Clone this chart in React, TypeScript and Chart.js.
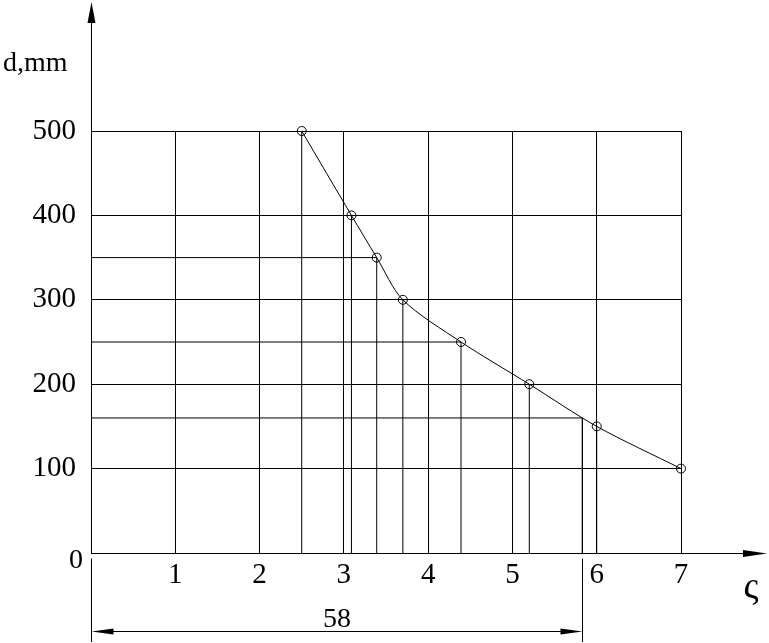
import React, { useEffect, useRef } from "react";
import { Chart, registerables } from "chart.js";

Chart.register(...registerables);

const xValues = [2.5, 3.09, 3.39, 3.7, 4.39, 5.2, 6.0, 7.0];
const dValues = [500, 400, 350, 300, 250, 200, 150, 100];
const refLevels = [350, 250];
const refXs = [3.39, 4.39];
const dimX = 5.83;
const dimLevel = 160;
const dimLabel = "58";
const xTicks = [0, 1, 2, 3, 4, 5, 6, 7];
const yTicks = [0, 100, 200, 300, 400, 500];

const FONT = "'Liberation Serif', 'Times New Roman', serif";

const overlay = {
  id: "overlay",
  afterDraw(chart: any) {
    const ctx = chart.ctx;
    const xs = chart.scales.x;
    const ys = chart.scales.y;
    const x0 = Math.round(xs.getPixelForValue(0)) + 0.5;
    const y0 = Math.round(ys.getPixelForValue(0)) + 0.5;
    const xd = Math.round(xs.getPixelForValue(dimX)) + 0.5;
    ctx.save();
    ctx.strokeStyle = "#000";
    ctx.fillStyle = "#000";
    ctx.lineWidth = 1;
    // y axis
    ctx.beginPath();
    ctx.moveTo(x0, y0);
    ctx.lineTo(x0, 20);
    ctx.stroke();
    ctx.beginPath();
    ctx.moveTo(x0, 2);
    ctx.lineTo(x0 - 4, 23);
    ctx.lineTo(x0 + 4, 23);
    ctx.closePath();
    ctx.fill();
    // x axis
    ctx.beginPath();
    ctx.moveTo(x0, y0);
    ctx.lineTo(746, y0);
    ctx.stroke();
    ctx.beginPath();
    ctx.moveTo(767, y0);
    ctx.lineTo(743, y0 - 3.5);
    ctx.lineTo(743, y0 + 3.5);
    ctx.closePath();
    ctx.fill();
    // extension lines
    ctx.beginPath();
    ctx.moveTo(x0, y0 + 5);
    ctx.lineTo(x0, 642);
    ctx.moveTo(xd, y0 + 5);
    ctx.lineTo(xd, 642);
    ctx.stroke();
    // dimension line
    const yd = 631.5;
    ctx.beginPath();
    ctx.moveTo(x0 + 10, yd);
    ctx.lineTo(xd - 10, yd);
    ctx.stroke();
    ctx.beginPath();
    ctx.moveTo(x0, yd);
    ctx.lineTo(x0 + 22, yd - 3);
    ctx.lineTo(x0 + 22, yd + 3);
    ctx.closePath();
    ctx.fill();
    ctx.beginPath();
    ctx.moveTo(xd, yd);
    ctx.lineTo(xd - 22, yd - 3);
    ctx.lineTo(xd - 22, yd + 3);
    ctx.closePath();
    ctx.fill();
    // texts
    ctx.font = "28px " + FONT;
    ctx.textBaseline = "alphabetic";
    ctx.textAlign = "left";
    ctx.fillText("d,mm", 3, 71);
    ctx.textAlign = "right";
    ctx.fillText("0", 83, 568);
    ctx.textAlign = "center";
    ctx.fillText(dimLabel, (x0 + xd) / 2, 627);
    ctx.font = "38px " + FONT;
    ctx.fillText("ς", 751, 598);
    ctx.restore();
  },
};

export default function App() {
  const ref = useRef<HTMLCanvasElement>(null);
  useEffect(() => {
    if (!ref.current) return;
    const pts = xValues.map((x, i) => ({ x, y: dValues[i] }));
    const lineStyle = {
      borderColor: "#000",
      borderWidth: 1,
      pointRadius: 0,
      showLine: true,
      fill: false,
    };
    const drops = xValues.slice(0, xValues.length - 1).map((x, i) => ({
      type: "line" as const,
      data: [
        { x, y: 0 },
        { x, y: dValues[i] },
      ],
      ...lineStyle,
    }));
    const refs = refLevels.map((lv, i) => ({
      type: "line" as const,
      data: [
        { x: 0, y: lv },
        { x: refXs[i], y: lv },
      ],
      ...lineStyle,
    }));
    const dimLines = [
      {
        type: "line" as const,
        data: [
          { x: 0, y: dimLevel },
          { x: dimX, y: dimLevel },
          { x: dimX, y: 0 },
        ],
        ...lineStyle,
        tension: 0,
      },
    ];
    const chart = new Chart(ref.current, {
      type: "scatter",
      data: {
        datasets: [
          {
            type: "line",
            data: pts,
            borderColor: "#000",
            borderWidth: 1,
            tension: 0.3,
            pointRadius: 4.5,
            pointBorderWidth: 1,
            pointBorderColor: "#000",
            pointBackgroundColor: "rgba(0,0,0,0)",
            fill: false,
            clip: false,
          } as any,
          ...drops,
          ...refs,
          ...dimLines,
        ],
      },
      options: {
        responsive: false,
        animation: false,
        devicePixelRatio: 1,
        layout: { padding: { top: 131, right: 88, left: 0, bottom: 0 } },
        plugins: { legend: { display: false }, tooltip: { enabled: false } },
        events: [],
        scales: {
          x: {
            type: "linear",
            min: 0,
            max: 7,
            afterFit: (s: any) => {
              s.height = 90;
            },
            afterBuildTicks: (s: any) => {
              s.ticks = xTicks.map((v) => ({ value: v }));
            },
            border: { display: false },
            grid: { color: "#000", lineWidth: 1, drawTicks: false },
            ticks: {
              color: "#000",
              font: { family: FONT, size: 29 },
              padding: 5,
              maxRotation: 0,
              autoSkip: false,
              callback: (v: any) => (v === 0 ? "" : String(v)),
            },
          },
          y: {
            type: "linear",
            min: 0,
            max: 500,
            afterFit: (s: any) => {
              s.width = 91;
            },
            afterBuildTicks: (s: any) => {
              s.ticks = yTicks.map((v) => ({ value: v }));
            },
            border: { display: false },
            grid: { color: "#000", lineWidth: 1, drawTicks: false },
            ticks: {
              color: "#000",
              font: { family: FONT, size: 29 },
              padding: 15,
              autoSkip: false,
              callback: (v: any) => (v === 0 ? "" : String(v)),
            },
          },
        },
      } as any,
      plugins: [overlay],
    });
    return () => chart.destroy();
  }, []);
  return (
    <div style={{ position: "fixed", left: 0, top: 0, width: 769, height: 643, background: "#fff" }}>
      <canvas ref={ref} width={769} height={643} style={{ width: 769, height: 643, display: "block" }} />
    </div>
  );
}
